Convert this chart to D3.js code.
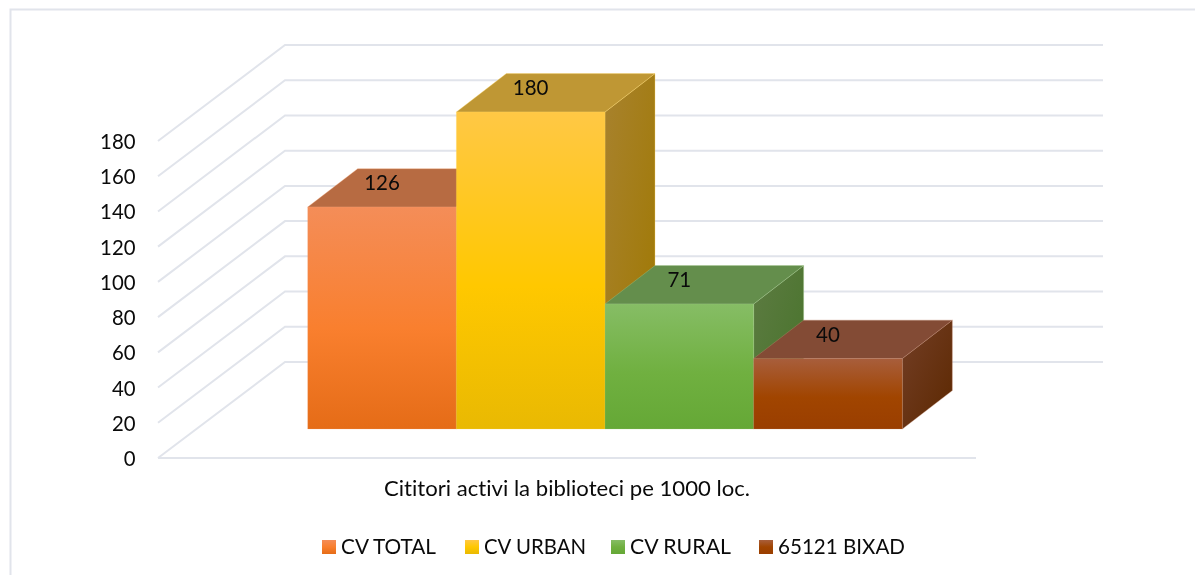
<!DOCTYPE html>
<html><head><meta charset="utf-8">
<script src="https://cdn.jsdelivr.net/npm/d3@7/dist/d3.min.js"></script>
<style>html,body{margin:0;padding:0;background:#fff}svg{display:block;filter:blur(.3px)}text{font-family:Lato,"Open Sans",sans-serif;fill:#0a0a0a;font-variant-ligatures:none}</style>
</head><body><script>
const categories = ["CV TOTAL","CV URBAN","CV RURAL","65121 BIXAD"];
const values = [126,180,71,40];
const ticks = [0,20,40,60,80,100,120,140,160,180];
const axisTitle = "Cititori activi la biblioteci pe 1000 loc.";
const frontColors = [["#f48d58","#f97f2e","#e56c17"],["#ffc845","#ffc800","#e9b902"],["#86bd65","#70b040","#65a836"],["#a85e3c","#a14500","#9a3e00"]];
const topColors = ["#b76b42","#bf9734","#648e4c","#834b35"];
const sideColors = [["#a5602d","#8f4f1a"],["#a8822e","#9f7800"],["#5d7b42","#467329"],["#733e26","#5c2800"]];
const edgeColors = ["#f5a77c","#ffd966","#a3c98d","#c08a70"];

const W=1195,H=575;
const svg=d3.select("body").append("svg").attr("width",W).attr("height",H);
const defs=svg.append("defs");
const y=d3.scaleLinear().domain([0,180]).range([458,141]);
const x=d3.scaleBand().domain(categories).range([307.7,902.3]);
const grid="#e1e4eb";
const wall={dx:127,dy:-96}, bar={dx:50,dy:-38.4}, baseShift=-29;
const floorRight=976;

svg.append("path").attr("d",`M1195,9.5H10.5V575`).attr("fill","none").attr("stroke",grid).attr("stroke-width",2);

ticks.forEach(t=>{
  const yy=y(t);
  svg.append("path").attr("d",`M158,${yy}L${158+wall.dx},${yy+wall.dy}H${floorRight+wall.dx}`).attr("fill","none").attr("stroke",grid).attr("stroke-width",2);
  svg.append("text").attr("x",135.5).attr("y",yy+8).attr("text-anchor","end").attr("font-size",22)
    .attr("textLength",String(t).length*11.8).attr("lengthAdjust","spacingAndGlyphs").text(t);
});
svg.append("line").attr("x1",158).attr("x2",floorRight).attr("y1",y(0)).attr("y2",y(0)).attr("stroke",grid).attr("stroke-width",2);

frontColors.forEach((c,i)=>{
  const g=defs.append("linearGradient").attr("id","f"+i).attr("x1",0).attr("x2",0).attr("y1",0).attr("y2",1);
  [0,.55,1].forEach((o,k)=>g.append("stop").attr("offset",o).attr("stop-color",c[k]));
  const s=defs.append("linearGradient").attr("id","s"+i).attr("x1",0).attr("x2",1).attr("y1",0).attr("y2",1);
  sideColors[i].forEach((cc,k)=>s.append("stop").attr("offset",k).attr("stop-color",cc));
  const l=defs.append("linearGradient").attr("id","l"+i).attr("x1",0).attr("x2",0).attr("y1",0).attr("y2",1);
  [0,.5,1].forEach((o,k)=>l.append("stop").attr("offset",o).attr("stop-color",c[k]));
});

categories.forEach((c,i)=>{
  const x0=x(c),x1=x0+x.bandwidth(),yb=y(0)+baseShift,yt=y(values[i])+baseShift;
  const dx=bar.dx,dy=bar.dy;
  const poly=(pts,fill,op)=>svg.append("polygon").attr("points",pts.map(p=>p.join(",")).join(" ")).attr("fill",fill).attr("stroke",edgeColors[i]).attr("stroke-width",.6).attr("stroke-opacity",op);
  poly([[x1,yb],[x1,yt],[x1+dx,yt+dy],[x1+dx,yb+dy]],`url(#s${i})`,.6);
  poly([[x0,yt],[x0+dx,yt+dy],[x1+dx,yt+dy],[x1,yt]],topColors[i],.6);
  poly([[x0,yb],[x0,yt],[x1,yt],[x1,yb]],`url(#f${i})`,.35);
  const s=String(values[i]);
  svg.append("text").attr("x",x0+74.3).attr("y",yt+dy/2+2.5).attr("text-anchor","middle").attr("font-size",22)
    .attr("textLength",s.length*11.9).attr("lengthAdjust","spacingAndGlyphs").text(s);
});

svg.append("text").attr("x",567).attr("y",496).attr("text-anchor","middle").attr("font-size",22).attr("textLength",366).attr("lengthAdjust","spacingAndGlyphs").text(axisTitle);

const legX=[322,465,611,759], legT=[341,484,630,778], legW=[95,102,101,127];
categories.forEach((c,i)=>{
  svg.append("rect").attr("x",legX[i]).attr("y",540).attr("width",14).attr("height",14).attr("fill",`url(#l${i})`);
  svg.append("text").attr("x",legT[i]).attr("y",554).attr("font-size",20.5).attr("textLength",legW[i]).attr("lengthAdjust","spacingAndGlyphs").text(c);
});
</script></body></html>
